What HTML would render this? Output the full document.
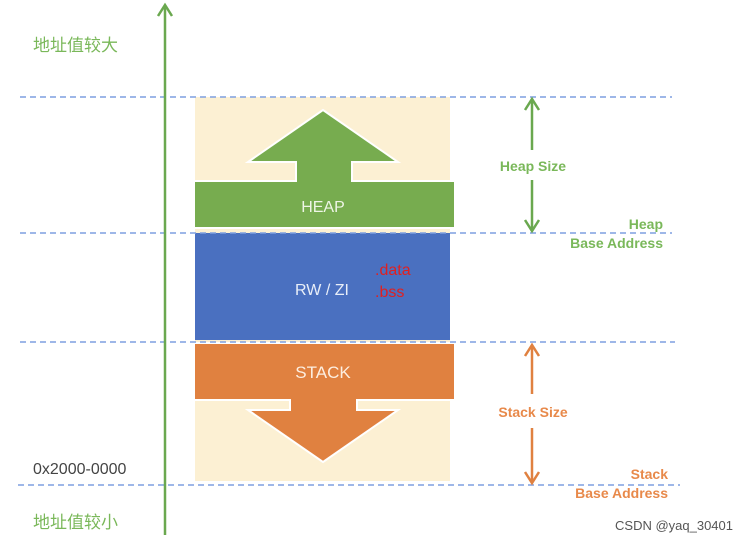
<!DOCTYPE html>
<html><head><meta charset="utf-8"><style>
html,body{margin:0;padding:0;background:#fff;width:749px;height:542px;overflow:hidden}
text{font-family:"Liberation Sans","Noto Sans CJK SC",sans-serif}
</style></head><body>
<svg width="749" height="542" viewBox="0 0 749 542" xmlns="http://www.w3.org/2000/svg">
<rect x="195" y="97" width="255" height="384" fill="#fcf0d3"/>
<rect x="195" y="233" width="255" height="107" fill="#4a70c0"/>
<g stroke="#fff" stroke-width="2" stroke-linejoin="miter">
<path d="M194,181 H296 V162 H248 L323,110 L398,162 H352 V181 H455 V228 H194 Z" fill="#77ac4f"/>
<path d="M194,343 H455 V400 H357 V410 H398 L323,462 L248,410 H290 V400 H194 Z" fill="#e08140"/>
</g>
<g stroke="#7f9fe0" stroke-width="1.5" stroke-dasharray="6,4">
<line x1="20" y1="97" x2="672" y2="97"/>
<line x1="20" y1="233" x2="672" y2="233"/>
<line x1="20" y1="342" x2="675" y2="342"/>
<line x1="18" y1="485" x2="680" y2="485"/>
</g>
<g stroke="#6aa84f" stroke-width="2.5" fill="none">
<line x1="165" y1="6" x2="165" y2="535"/>
<polyline points="158,16 165,5 172,16"/>
<line x1="532" y1="100" x2="532" y2="150"/>
<polyline points="525,110 532,99 539,110"/>
<line x1="532" y1="180" x2="532" y2="230"/>
<polyline points="525,220 532,231 539,220"/>
</g>
<g stroke="#e08140" stroke-width="2.5" fill="none">
<line x1="532" y1="346" x2="532" y2="394"/>
<polyline points="525,356 532,345 539,356"/>
<line x1="532" y1="428" x2="532" y2="482"/>
<polyline points="525,472 532,483 539,472"/>
</g>
<text x="323" y="212" fill="#eef5e6" font-size="16" text-anchor="middle">HEAP</text>
<text x="322" y="295" fill="#e8eef8" font-size="16" text-anchor="middle">RW / ZI</text>
<text x="375" y="275" fill="#e02020" font-size="16">.data</text>
<text x="375" y="297" fill="#e02020" font-size="16">.bss</text>
<text x="323" y="378" fill="#fdeee0" font-size="17" text-anchor="middle">STACK</text>
<g fill="#7ab85a" font-size="14" font-weight="bold">
<text x="533" y="171" text-anchor="middle">Heap Size</text>
<text x="663" y="229" text-anchor="end">Heap</text>
<text x="663" y="248" text-anchor="end">Base Address</text>
</g>
<g fill="#e8894a" font-size="14" font-weight="bold">
<text x="533" y="417" text-anchor="middle">Stack Size</text>
<text x="668" y="479" text-anchor="end">Stack</text>
<text x="668" y="498" text-anchor="end">Base Address</text>
</g>
<text x="33" y="51" fill="#7ab85a" font-size="17">地址值较大</text>
<text x="33" y="528" fill="#7ab85a" font-size="17">地址值较小</text>
<text x="33" y="474" fill="#444" font-size="16">0x2000-0000</text>
<text x="733" y="530" fill="#555" font-size="13" text-anchor="end">CSDN @yaq_30401</text>
</svg>
</body></html>
